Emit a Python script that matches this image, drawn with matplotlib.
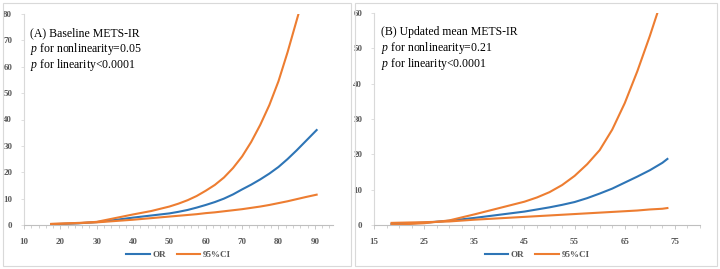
import matplotlib
matplotlib.use("Agg")
import matplotlib.pyplot as plt
from matplotlib.patches import Rectangle
from matplotlib.ticker import MultipleLocator
import numpy as np

plt.rcParams['font.family'] = 'Liberation Serif'
plt.rcParams['mathtext.fontset'] = 'custom'
plt.rcParams['mathtext.rm'] = 'Liberation Serif'
plt.rcParams['mathtext.it'] = 'Liberation Serif:italic'

# panel A: baseline METS-IR
xa = [17.5, 20, 25, 30, 35, 40, 45, 50, 52.5, 55, 57.5, 60, 62.5, 65, 67.5, 70,
      72.5, 75, 77.5, 80, 82.5, 85, 87.5, 90.5]
or_a = [0.3, 0.4, 0.65, 1.1, 1.9, 2.8, 3.6, 4.4, 5.0, 5.7, 6.6, 7.6, 8.7, 10.0, 11.6, 13.5,
        15.3, 17.3, 19.5, 22.0, 25.0, 28.3, 31.8, 36.0]
lo_a = [0.4, 0.5, 0.8, 1.0, 1.5, 2.0, 2.6, 3.2, 3.5, 3.8, 4.1, 4.5, 4.8, 5.2, 5.6, 6.0,
        6.5, 7.0, 7.6, 8.3, 9.0, 9.8, 10.6, 11.5]
xa_up = [17.5, 20, 25, 30, 35, 40, 45, 50, 52.5, 55, 57.5, 60, 62.5, 65, 67.5, 70,
         72.5, 75, 77.5, 80, 82.5, 85.5]
up_a = [0.4, 0.5, 0.7, 1.2, 2.6, 4.0, 5.3, 7.0, 8.1, 9.4, 11.0, 13.0, 15.2, 18.0, 21.6, 26.0,
        31.5, 38.0, 45.5, 54.5, 65.5, 80.0]

# panel B: updated mean METS-IR
xb = [18.5, 20, 25, 30, 35, 40, 45, 50, 52.5, 55, 57.5, 60, 62.5, 65, 67.5, 70, 72.5, 73.5]
or_b = [0.3, 0.35, 0.65, 1.2, 2.0, 2.9, 3.8, 5.0, 5.7, 6.5, 7.6, 8.9, 10.3, 12.0, 13.7, 15.5,
        17.6, 18.7]
lo_b = [0.6, 0.65, 0.8, 1.0, 1.5, 1.9, 2.3, 2.7, 2.9, 3.1, 3.3, 3.5, 3.7, 3.9, 4.1, 4.4,
        4.6, 4.8]
xb_up = [18.5, 20, 25, 30, 35, 40, 45, 47.5, 50, 52.5, 55, 57.5, 60, 62.5, 65, 67.5, 70, 71.5]
up_b = [0.1, 0.15, 0.5, 1.3, 3.0, 4.8, 6.6, 7.8, 9.3, 11.3, 13.9, 17.2, 21.2, 27.0, 34.5,
        43.5, 53.5, 60.0]

blue = '#2E75B6'
orange = '#ED7D31'
tick_col = '#595959'

fig = plt.figure(figsize=(7.2, 2.69), dpi=100)
W, H = 720, 269

# light frames around each panel
for x0, x1 in [(3, 351), (355, 717)]:
    fig.patches.append(Rectangle((x0 / W, 3 / H), (x1 - x0) / W, (266 - 3) / H,
                                 transform=fig.transFigure, fill=False,
                                 edgecolor='#d9d9d9', linewidth=0.8))


def panel(rect, x, y_or, y_lo, x_up, y_up, xlim, ylim, xticks, xminor, lines):
    ax = fig.add_axes(rect)
    ax.plot(x, y_or, color=blue, lw=1.5, label='OR', zorder=3)
    ax.plot(x_up, y_up, color=orange, lw=1.5, label='95%CI', zorder=3)
    ax.plot(x, y_lo, color=orange, lw=1.5, zorder=3)
    ax.set_xlim(*xlim)
    ax.set_ylim(*ylim)
    ax.set_xticks(xticks)
    ax.xaxis.set_minor_locator(MultipleLocator(xminor))
    ax.yaxis.set_major_locator(MultipleLocator(10))
    for s in ['top', 'right']:
        ax.spines[s].set_visible(False)
    ax.spines['left'].set_color('#d9d9d9')
    ax.spines['bottom'].set_color('#bfbfbf')
    ax.spines['left'].set_linewidth(0.8)
    ax.spines['bottom'].set_linewidth(0.8)
    ax.tick_params(axis='both', labelsize=6.5, colors=tick_col, length=2.5, width=0.6)
    ax.tick_params(axis='x', which='minor', length=2, width=0.5, color='#bfbfbf')
    ax.tick_params(axis='x', which='major', color='#bfbfbf', length=3, pad=6)
    ax.tick_params(axis='y', color='#d9d9d9', pad=6)
    for lab in ax.get_xticklabels() + ax.get_yticklabels():
        lab.set_fontweight('bold')
    ax.text(0.02, 0.91, lines[0], transform=ax.transAxes, fontsize=8.5, va='center')
    ax.text(0.02, 0.835, r'$p$' + lines[1], transform=ax.transAxes, fontsize=8.5, va='center')
    ax.text(0.02, 0.76, r'$p$' + lines[2], transform=ax.transAxes, fontsize=8.5, va='center')
    leg = ax.legend(loc='upper center', bbox_to_anchor=(0.5, -0.085), ncol=2, frameon=False,
                    prop={'size': 6.5, 'weight': 'bold'}, handlelength=2.6,
                    handletextpad=0.3, columnspacing=1.2)
    for t in leg.get_texts():
        t.set_color(tick_col)
    return ax


panel([24 / W, 44 / H, 309 / W, 211 / H], xa, or_a, lo_a, xa_up, up_a,
      (10, 95), (0, 80), np.arange(10, 95, 10), 2,
      ['(A) Baseline METS-IR', ' for nonlinearity=0.05', ' for linearity<0.0001'])
panel([374 / W, 44 / H, 326 / W, 212 / H], xb, or_b, lo_b, xb_up, up_b,
      (15, 80), (0, 60), np.arange(15, 80, 10), 2.5,
      ['(B) Updated mean METS-IR', ' for nonlinearity=0.21', ' for linearity<0.0001'])

fig.savefig('out.png', dpi=100)
